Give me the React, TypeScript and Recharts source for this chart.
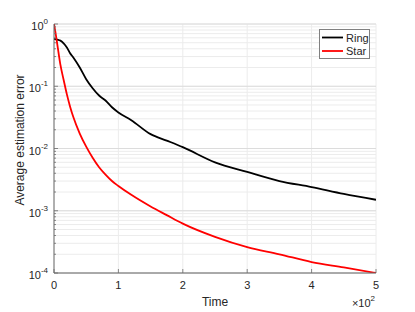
import * as React from "react";
import {
  LineChart,
  Line,
  XAxis,
  YAxis,
  CartesianGrid,
  ReferenceLine,
  Legend,
} from "recharts";

// time axis values (plotted as t, labelled in units of 10^2)
const times = [
  0, 2, 5, 10, 15, 20, 25, 30, 40, 50, 60, 70, 80, 90, 100, 120, 150, 175,
  200, 250, 300, 350, 400, 450, 500,
];

const ringError = [
  0.58, 0.57, 0.56, 0.54, 0.49, 0.42, 0.34, 0.29, 0.2, 0.13, 0.093, 0.071,
  0.059, 0.046, 0.038, 0.0285, 0.017, 0.0134, 0.0105, 0.006, 0.0042, 0.003,
  0.0024, 0.00186, 0.0015,
];

const starError = [
  1.0, 0.76, 0.48, 0.22, 0.126, 0.074, 0.047, 0.032, 0.0174, 0.0107, 0.0071,
  0.005, 0.0038, 0.003, 0.0025, 0.0018, 0.00117, 0.00085, 0.00062, 0.00038,
  0.00026, 0.0002, 0.00015, 0.000123, 0.0001,
];

const xTicks = [0, 100, 200, 300, 400, 500];
const yDecades = [1e-4, 1e-3, 1e-2, 1e-1, 1];

const FONT = "'Liberation Sans', Arial, Helvetica, sans-serif";
const TEXT = "#262626";
const AXIS = "#6b6b6b";

const yAllTicks: number[] = [];
yDecades.forEach((d, i) => {
  yAllTicks.push(d);
  if (i < yDecades.length - 1) {
    for (let k = 2; k <= 9; k++) yAllTicks.push(d * k);
  }
});

const data = times.map((t, i) => ({ t, ring: ringError[i], star: starError[i] }));

function YTick(props: any) {
  const { x, y, payload } = props;
  const v = Number(payload?.value);
  const lg = Math.log10(v);
  const e = Math.round(lg);
  const major = Math.abs(lg - e) < 1e-6;
  return (
    <g>
      <line x1={x} x2={x + (major ? 4 : 2)} y1={y} y2={y} stroke={AXIS} strokeWidth={0.8} />
      {major && (
        <text x={x - 6} y={y + 6} textAnchor="end" fontFamily={FONT} fill={TEXT}>
          <tspan fontSize={11}>10</tspan>
          <tspan fontSize={8} dy={-6}>{e}</tspan>
        </text>
      )}
    </g>
  );
}

function XTick(props: any) {
  const { x, y, payload } = props;
  const v = Number(payload?.value);
  return (
    <g>
      <line x1={x} x2={x} y1={y} y2={y - 4} stroke={AXIS} strokeWidth={0.8} />
      <text x={x} y={y + 16} textAnchor="middle" fontSize={11} fontFamily={FONT} fill={TEXT}>
        {v / 100}
      </text>
      {v === 500 && (
        <text x={x - 1} y={y + 34} textAnchor="end" fontFamily={FONT} fill={TEXT}>
          <tspan fontSize={11}>×10</tspan>
          <tspan fontSize={8} dy={-6}>2</tspan>
        </text>
      )}
    </g>
  );
}

function LegendBox() {
  return (
    <svg width={51} height={30} style={{ display: "block" }}>
      <rect x={0.5} y={0.5} width={50} height={29} fill="#fff" stroke="#808080" />
      <line x1={3} x2={24} y1={8.5} y2={8.5} stroke="#000" strokeWidth={1.8} />
      <text x={27} y={12.5} fontSize={11} fontFamily={FONT} fill={TEXT}>Ring</text>
      <line x1={3} x2={24} y1={22} y2={22} stroke="#ff0000" strokeWidth={1.8} />
      <text x={27} y={26} fontSize={11} fontFamily={FONT} fill={TEXT}>Star</text>
    </svg>
  );
}

export default function App() {
  return (
    <div style={{ position: "absolute", left: 0, top: 0, background: "#fff" }}>
      <LineChart
        width={415}
        height={312}
        data={data}
        margin={{ top: 24, right: 39, bottom: 0, left: 0 }}
      >
        <CartesianGrid stroke="#ececec" strokeWidth={1} />
        {yDecades.map((d) => (
          <ReferenceLine key={d} y={d} stroke="#dcdcdc" strokeWidth={1} />
        ))}
        <XAxis
          dataKey="t"
          type="number"
          domain={[0, 500]}
          ticks={xTicks}
          allowDataOverflow
          height={39}
          tickSize={0}
          tickMargin={0}
          tickLine={false}
          axisLine={{ stroke: AXIS }}
          tick={<XTick />}
          interval={0}
          label={{
            content: () => (
              <text x={215} y={306} textAnchor="middle" fontSize={12} fontFamily={FONT} fill={TEXT}>
                Time
              </text>
            ),
          }}
        />
        <YAxis
          type="number"
          scale="log"
          domain={[1e-4, 1]}
          ticks={yAllTicks}
          allowDataOverflow
          width={54}
          tickSize={0}
          tickMargin={0}
          tickLine={false}
          axisLine={{ stroke: AXIS }}
          tick={<YTick />}
          interval={0}
          label={{
            content: () => (
              <text
                x={24}
                y={140}
                transform="rotate(-90 24 140)"
                textAnchor="middle"
                fontSize={12}
                fontFamily={FONT}
                fill={TEXT}
              >
                Average estimation error
              </text>
            ),
          }}
        />
        <Line
          type="monotone"
          dataKey="ring"
          name="Ring"
          stroke="#000000"
          strokeWidth={1.8}
          dot={false}
          isAnimationActive={false}
        />
        <Line
          type="monotone"
          dataKey="star"
          name="Star"
          stroke="#ff0000"
          strokeWidth={1.8}
          dot={false}
          isAnimationActive={false}
        />
        <Legend
          layout="horizontal"
          align="center"
          verticalAlign="middle"
          content={() => <LegendBox />}
          wrapperStyle={{ position: "absolute", left: 319, top: 29, width: 51, height: 30 }}
        />
      </LineChart>
    </div>
  );
}
